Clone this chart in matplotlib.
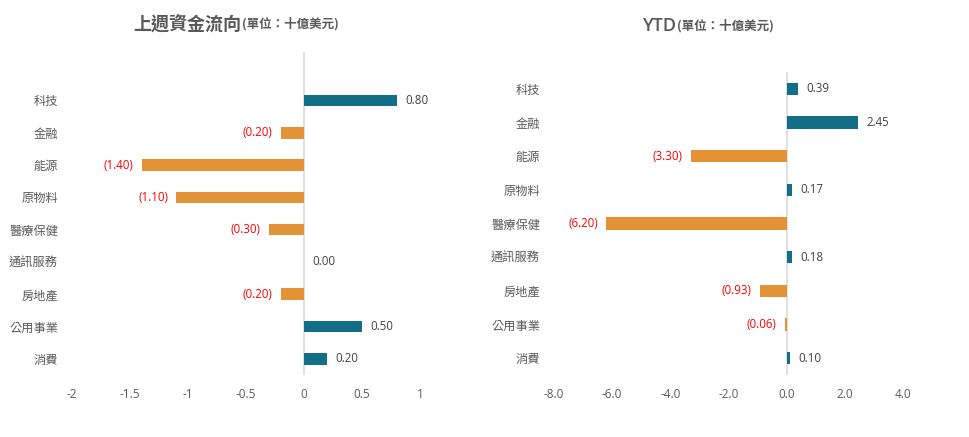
import numpy as np
import matplotlib
matplotlib.use("Agg")
import matplotlib.pyplot as plt

plt.rcParams['font.family'] = ['Noto Sans CJK TC', 'DejaVu Sans']
NUM_FONT = ['Open Sans', 'Noto Sans CJK TC']

categories = ['科技', '金融', '能源', '原物料', '醫療保健', '通訊服務', '房地產', '公用事業', '消費']
weekly_flow = [0.80, -0.20, -1.40, -1.10, -0.30, 0.00, -0.20, 0.50, 0.20]
ytd_flow = [0.39, 2.45, -3.30, 0.17, -6.20, 0.18, -0.93, -0.06, 0.10]
weekly_ticks = [-2, -1.5, -1, -0.5, 0, 0.5, 1]
weekly_tick_labels = ['-2', '-1.5', '-1', '-0.5', '0', '0.5', '1']
ytd_ticks = [-8, -6, -4, -2, 0, 2, 4]
ytd_tick_labels = ['-8.0', '-6.0', '-4.0', '-2.0', '0.0', '2.0', '4.0']

TEAL = '#136F87'
ORANGE = '#E49236'
GRAY = '#595959'
W, H = 970, 437


def fmt(v):
    return f'({abs(v):.2f})' if v < 0 else f'{v:.2f}'


def draw(ax, values, ticks, tick_labels, xlim, ytop):
    y = np.arange(len(categories))
    colors = [ORANGE if v < 0 else TEAL for v in values]
    ax.barh(y, values, height=0.36, color=colors)
    ax.axvline(0, color='#D9D9D9', lw=1.2, zorder=0)
    ax.set_xlim(*xlim)
    ax.set_ylim(len(categories) - 0.5, ytop)
    ax.set_yticks(y)
    ax.set_yticklabels(categories, fontsize=8.8, color=GRAY)
    ax.set_xticks(ticks)
    ax.set_xticklabels(tick_labels, fontsize=8.5, color=GRAY, family=NUM_FONT)
    ax.tick_params(length=0)
    ax.tick_params(axis='x', pad=9)
    ax.tick_params(axis='y', pad=10)
    for s in ax.spines.values():
        s.set_visible(False)
    for yi, v in zip(y, values):
        if v < 0:
            ax.annotate(fmt(v), (v, yi), xytext=(-6, 0), textcoords='offset points',
                        ha='right', va='center', fontsize=8.3, color='#FF0000',
                        family=NUM_FONT)
        else:
            ax.annotate(fmt(v), (v, yi), xytext=(6, 0), textcoords='offset points',
                        ha='left', va='center', fontsize=8.3, color='#404040',
                        family=NUM_FONT)


fig = plt.figure(figsize=(W / 100, H / 100), dpi=100)

ax1 = fig.add_axes([72 / W, 1 - 375 / H, (420 - 72) / W, (375 - 52) / H])
draw(ax1, weekly_flow, weekly_ticks, weekly_tick_labels, (-2, 1), -1.5)

ax2 = fig.add_axes([554 / W, 1 - 375 / H, (903 - 554) / W, (375 - 72) / H])
draw(ax2, ytd_flow, ytd_ticks, ytd_tick_labels, (-8, 4), -0.5)

fig.text(241 / W, 1 - 24 / H, '上週資金流向', ha='right', va='center',
         fontsize=13, fontweight='bold', color=GRAY)
fig.text(242 / W, 1 - 24 / H, '(單位：十億美元)', ha='left', va='center',
         fontsize=9, fontweight='semibold', color=GRAY)
fig.text(676 / W, 1 - 26 / H, 'YTD', ha='right', va='center',
         fontsize=13, fontweight='semibold', color=GRAY, family=NUM_FONT)
fig.text(677 / W, 1 - 26 / H, '(單位：十億美元)', ha='left', va='center',
         fontsize=9, fontweight='semibold', color=GRAY)

fig.savefig('out.png', dpi=100)
